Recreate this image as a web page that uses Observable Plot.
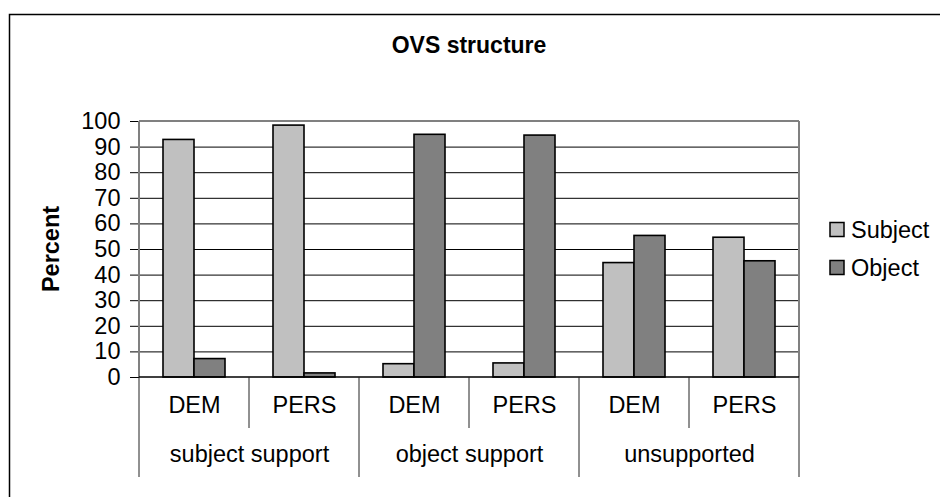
<!DOCTYPE html>
<html><head><meta charset="utf-8">
<script src="https://cdn.jsdelivr.net/npm/d3@7"></script>
<script src="https://cdn.jsdelivr.net/npm/@observablehq/plot@0.6"></script>
<style>html,body{margin:0;padding:0;background:#fff;}</style>
</head><body><div id="chart"></div>
<script>
const groups = ["subject support", "object support", "unsupported"];
const subgroups = ["DEM", "PERS"];
const series = ["Subject", "Object"];
const subjectValues = [92.8, 98.4, 5.2, 5.5, 44.7, 54.6];
const objectValues = [7.2, 1.6, 94.8, 94.5, 55.3, 45.4];
const yTicks = [0, 10, 20, 30, 40, 50, 60, 70, 80, 90, 100];
const seriesColors = ["#C0C0C0", "#808080"];
const chartTitle = "OVS structure";
const yLabel = "Percent";

const keys = groups.flatMap(g => subgroups.map(s => g + "|" + s));
const rows = keys.flatMap((k, i) => [
  {key: k, series: series[0], value: subjectValues[i]},
  {key: k, series: series[1], value: objectValues[i]}
]);

const W = 940, H = 497;
const FONT = "Arial, 'Liberation Sans', sans-serif";
const FS = 23.5;

const chart = Plot.plot({
  width: W, height: H,
  marginLeft: 137, marginRight: 139, marginTop: 121, marginBottom: 120,
  style: {fontFamily: FONT, fontSize: FS + "px", color: "#000", background: "#fff"},
  fx: {domain: keys, paddingInner: 0, paddingOuter: 0, axis: null},
  x: {domain: series, paddingInner: 0, paddingOuter: 0.73, axis: null},
  y: {domain: [0, 100], ticks: yTicks, tickSize: 9, tickPadding: 10, label: null},
  color: {domain: series, range: seriesColors},
  marks: [
    Plot.ruleY(yTicks.filter(t => t > 0 && t < 100), {stroke: "#000", strokeWidth: 1}),
    Plot.barY(rows, {fx: "key", x: "series", y: "value", fill: "series", stroke: "#000", strokeWidth: 1.6}),
    Plot.text(keys, {fx: d => d, text: d => d.split("|")[1], frameAnchor: "bottom", dy: 35}),
    Plot.text(groups, {fx: g => g + "|" + subgroups[1], text: d => d, frameAnchor: "bottom-left", textAnchor: "middle", dy: 84})
  ]
});
document.getElementById("chart").appendChild(chart);

const svg = d3.select(chart);
const fx = chart.scale("fx"), y = chart.scale("y"), color = chart.scale("color");
const x0 = fx.apply(keys[0]);
const x1 = fx.apply(keys[keys.length - 1]) + fx.bandwidth;
const yTop = y.apply(100), yBot = y.apply(0);

const g = svg.append("g");
// plot area border
g.append("line").attr("x1", x0).attr("x2", x1).attr("y1", yTop).attr("y2", yTop).attr("stroke", "#808080").attr("stroke-width", 2);
g.append("line").attr("x1", x1).attr("x2", x1).attr("y1", yTop).attr("y2", yBot).attr("stroke", "#808080").attr("stroke-width", 2);
g.append("line").attr("x1", x0).attr("x2", x0).attr("y1", yTop).attr("y2", yBot).attr("stroke", "#808080").attr("stroke-width", 2);
g.append("line").attr("x1", x0).attr("x2", x1).attr("y1", yBot).attr("y2", yBot).attr("stroke", "#000").attr("stroke-width", 1.5);
// category separators
const edges = keys.map(k => fx.apply(k)).concat([x1]);
edges.forEach((ex, i) => {
  g.append("line").attr("x1", ex).attr("x2", ex).attr("y1", yBot).attr("y2", yBot + (i % 2 === 0 ? 100 : 51))
    .attr("stroke", "#222").attr("stroke-width", 1);
});
// title
g.append("text").attr("x", 469).attr("y", 53).attr("text-anchor", "middle")
  .attr("font-family", FONT).attr("font-size", 23).attr("font-weight", "bold").text(chartTitle);
// y label
g.append("text").attr("transform", `translate(51,${(yTop + yBot) / 2}) rotate(-90)`)
  .attr("text-anchor", "middle").attr("dy", "0.35em")
  .attr("font-family", FONT).attr("font-size", FS).attr("font-weight", "bold").text(yLabel);
// legend
series.forEach((s, i) => {
  const ly = 229.5 + i * 38;
  g.append("rect").attr("x", 830).attr("y", ly - 7).attr("width", 14).attr("height", 14)
    .attr("fill", color.apply(s)).attr("stroke", "#000").attr("stroke-width", 1.5);
  g.append("text").attr("x", 851).attr("y", ly).attr("dy", "0.35em").attr("text-anchor", "start")
    .attr("font-family", FONT).attr("font-size", FS).text(s);
});
// outer chart border
g.append("rect").attr("x", 9.5).attr("y", 14.5).attr("width", 1000).attr("height", 1000)
  .attr("fill", "none").attr("stroke", "#000").attr("stroke-width", 1.5);
</script>
</body></html>
